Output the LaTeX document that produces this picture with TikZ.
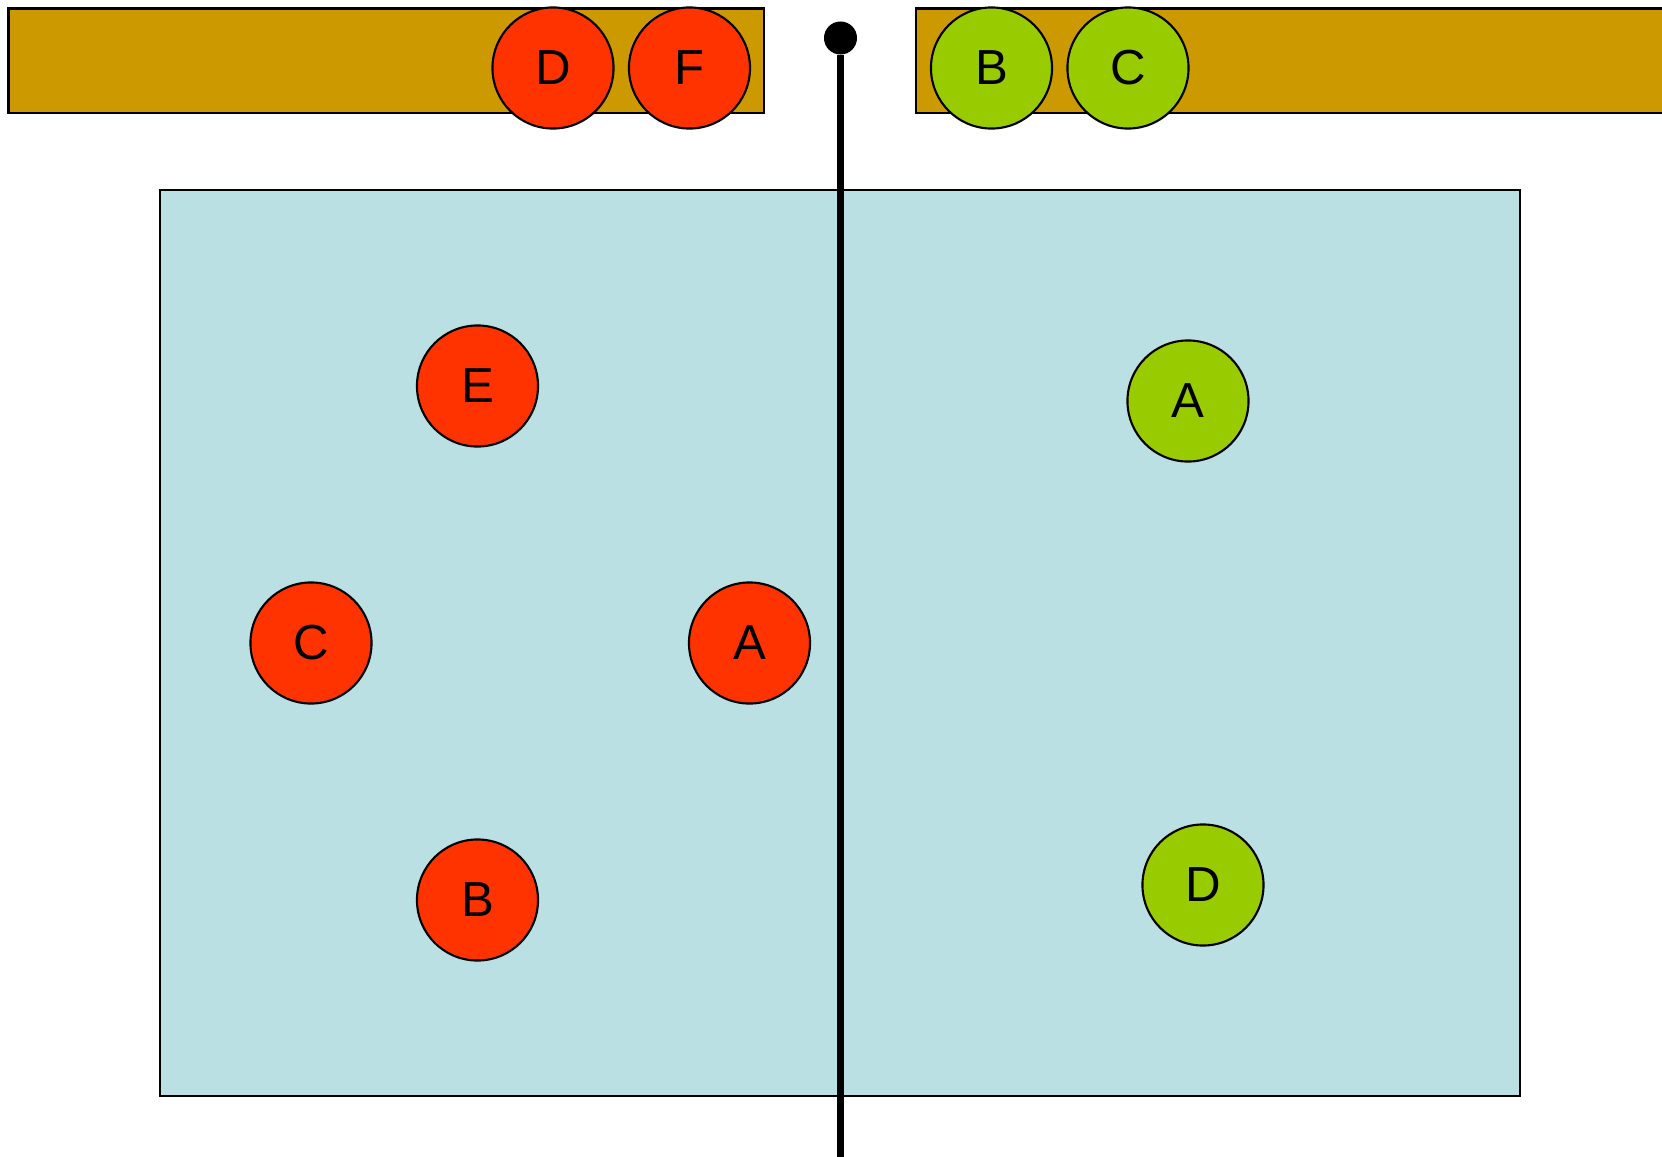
\documentclass[tikz,border=0pt]{standalone}
\usepackage{fontspec}
\setmainfont{Liberation Sans}
\usetikzlibrary{positioning}
\definecolor{teamred}{HTML}{FF3300}
\definecolor{teamgreen}{HTML}{99CC00}
\definecolor{benchgold}{HTML}{CC9900}
\definecolor{courtblue}{HTML}{BBE0E3}

\begin{document}
\begin{tikzpicture}[x=0.01cm,y=-0.01cm,
    player/.style={circle,draw=black,line width=0.6pt,minimum size=1.21cm,inner sep=0pt,font=\fontsize{14}{14}\selectfont},
    red/.style={player,fill=teamred},
    green/.style={player,fill=teamgreen}]
            \useasboundingbox (0,0) rectangle (1662,1157);

            \draw[fill=benchgold,line width=0.6pt] (8.5,8.5) rectangle (764,113.4);
            \draw[fill=benchgold,line width=0.6pt] (916,8.5) rectangle (1680,113.4);
            \draw[fill=courtblue,line width=0.6pt] (160,190) rectangle (1520,1096);

            % net pole
            \node[circle,fill=black,minimum size=0.33cm,inner sep=0pt] (ball) at (840.5,38) {};
            \coordinate (poleend) at (840.5,1170);
            \draw[line width=2.2pt] (ball) -- (poleend);

            \node[red] (redD) at (553,68) {D};
            \node[red] (redF) at (689.5,68) {F};
            \node[red] (redE) at (477.5,386) {E};
            \node[red] (redC) at (311,643) {C};
            \node[red] (redA) at (749.5,643) {A};
            \node[red] (redB) at (477.5,900) {B};

            \node[green] (greenB) at (991.5,68) {B};
            \node[green] (greenC) at (1128,68) {C};
            \node[green] (greenA) at (1188,401) {A};
            \node[green] (greenD) at (1203,885) {D};
        \end{tikzpicture}
\end{document}
